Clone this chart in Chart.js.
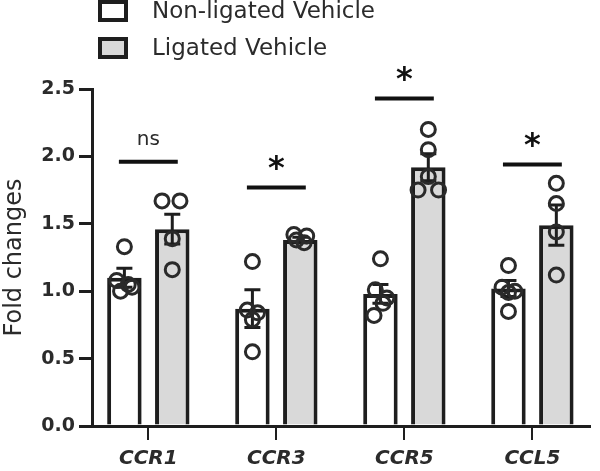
<!DOCTYPE html>
<html>
<head>
<meta charset="utf-8">
<script src="https://cdn.jsdelivr.net/npm/chart.js@4/dist/chart.umd.min.js"></script>
<style>
  html, body { margin: 0; padding: 0; background: #fff; }
  #wrap { width: 600px; height: 471px; position: relative; }
</style>
</head>
<body>
<div id="wrap"><canvas id="c" width="600" height="471"></canvas></div>
<script>
const categories = ['CCR1', 'CCR3', 'CCR5', 'CCL5'];
const seriesNames = ['Non-ligated Vehicle', 'Ligated Vehicle'];
const meanNon = [1.10, 0.87, 0.98, 1.02];
const meanLig = [1.46, 1.38, 1.92, 1.49];
const semNon = [0.07, 0.14, 0.07, 0.06];
const semLig = [0.11, 0.02, 0.10, 0.15];
const pointsNon = [
  [1.33, 1.08, 1.03, 1.00, 1.05],
  [1.22, 0.86, 0.84, 0.79, 0.55],
  [1.24, 1.01, 0.95, 0.91, 0.82],
  [1.19, 1.03, 1.00, 0.99, 0.85]
];
const pointsLig = [
  [1.67, 1.67, 1.39, 1.16],
  [1.42, 1.41, 1.38, 1.36],
  [2.20, 2.05, 1.85, 1.75, 1.75],
  [1.80, 1.65, 1.44, 1.12]
];
const jitterNon = [
  [0.00, -0.06, 0.06, -0.03, 0.03],
  [0.00, -0.04, 0.04, 0.00, 0.00],
  [0.00, -0.04, 0.05, 0.02, -0.05],
  [0.00, -0.05, 0.05, 0.00, 0.00]
];
const jitterLig = [
  [-0.08, 0.06, 0.00, 0.00],
  [-0.05, 0.05, -0.03, 0.03],
  [0.00, 0.00, 0.00, -0.08, 0.08],
  [0.00, 0.00, 0.00, 0.00]
];
const sigLabels = ['ns', '*', '*', '*'];
const sigHeights = [1.96, 1.77, 2.43, 1.94];
const yTicks = [0, 0.5, 1.0, 1.5, 2.0, 2.5];

const INK = '#1e1e1e';
const TEXT = '#2b2b2b';
const FILLS = ['#ffffff', '#d9d9d9'];
const CAT_PCT = 0.748, BAR_PCT = 0.72;
const GROUP_OFF = CAT_PCT / 4;

function scatterData(points, jitter, side) {
  const out = [];
  points.forEach((arr, i) => arr.forEach((v, j) => out.push({ x: i + side * GROUP_OFF + jitter[i][j], y: v })));
  return out;
}

const means = [meanNon, meanLig];
const sems = [semNon, semLig];

const errorBars = {
  id: 'errorBars',
  afterDatasetDraw(chart, args) {
    if (args.index > 1) return;
    const ctx = chart.ctx;
    const y = chart.scales.y;
    const meta = chart.getDatasetMeta(args.index);
    ctx.save();
    ctx.strokeStyle = INK;
    ctx.lineWidth = 3;
    meta.data.forEach((bar, i) => {
      const m = means[args.index][i], s = sems[args.index][i];
      const yt = y.getPixelForValue(m + s), yb = y.getPixelForValue(m - s);
      ctx.beginPath();
      ctx.moveTo(bar.x, yt); ctx.lineTo(bar.x, yb);
      ctx.moveTo(bar.x - 8, yt); ctx.lineTo(bar.x + 8, yt);
      ctx.moveTo(bar.x - 8, yb); ctx.lineTo(bar.x + 8, yb);
      ctx.stroke();
    });
    ctx.restore();
  }
};

const overlay = {
  id: 'overlay',
  afterDraw(chart) {
    const ctx = chart.ctx;
    const x = chart.scales.x, y = chart.scales.y;
    ctx.save();
    ctx.strokeStyle = '#111';
    ctx.lineWidth = 4;
    ctx.fillStyle = '#111';
    ctx.textAlign = 'center';
    sigLabels.forEach((lab, i) => {
      const py = y.getPixelForValue(sigHeights[i]);
      const x1 = x.getPixelForValue(i - 0.23), x2 = x.getPixelForValue(i + 0.23);
      ctx.beginPath(); ctx.moveTo(x1, py); ctx.lineTo(x2, py); ctx.stroke();
      const cx = (x1 + x2) / 2;
      ctx.textBaseline = 'middle';
      if (lab === '*') {
        ctx.font = 'bold 32px "DejaVu Sans"';
        ctx.fillStyle = '#111';
        ctx.fillText(lab, cx, py - 18);
      } else {
        ctx.font = '20px "DejaVu Sans"';
        ctx.fillStyle = TEXT;
        ctx.fillText(lab, cx, py - 22);
      }
    });
    ctx.textAlign = 'left';
    ctx.textBaseline = 'middle';
    ctx.font = '23px "DejaVu Sans"';
    const rows = [11, 48];
    seriesNames.forEach((name, k) => {
      const cy = rows[k];
      ctx.fillStyle = FILLS[k];
      ctx.fillRect(100, cy - 9, 26, 18);
      ctx.strokeStyle = INK;
      ctx.lineWidth = 4;
      ctx.strokeRect(100, cy - 9, 26, 18);
      ctx.fillStyle = TEXT;
      ctx.fillText(name, 152, cy + 1);
    });
    ctx.restore();
  }
};

const barCommon = {
  borderColor: INK,
  borderWidth: { top: 4, left: 4, right: 4, bottom: 0 },
  borderSkipped: false,
  categoryPercentage: CAT_PCT,
  barPercentage: BAR_PCT,
  order: 2
};
const pointCommon = {
  type: 'scatter',
  pointRadius: 7,
  pointBorderWidth: 3,
  borderColor: '#2a2a2a',
  backgroundColor: 'rgba(0,0,0,0)',
  order: 1
};

new Chart(document.getElementById('c'), {
  type: 'bar',
  data: {
    datasets: [
      Object.assign({ label: seriesNames[0], data: meanNon.map((v, i) => ({ x: i, y: v })), backgroundColor: FILLS[0] }, barCommon),
      Object.assign({ label: seriesNames[1], data: meanLig.map((v, i) => ({ x: i, y: v })), backgroundColor: FILLS[1] }, barCommon),
      Object.assign({ label: seriesNames[0] + ' points', data: scatterData(pointsNon, jitterNon, -1) }, pointCommon),
      Object.assign({ label: seriesNames[1] + ' points', data: scatterData(pointsLig, jitterLig, 1) }, pointCommon)
    ]
  },
  options: {
    responsive: false,
    animation: false,
    layout: { padding: { top: 89, right: 4, left: 0, bottom: 0 } },
    plugins: { legend: { display: false }, tooltip: { enabled: false } },
    scales: {
      x: {
        type: 'linear',
        min: -0.44,
        max: 3.45,
        offset: false,
        afterBuildTicks(scale) { scale.ticks = categories.map((c, i) => ({ value: i })); },
        afterFit(scale) { scale.height = 45; },
        grid: { drawOnChartArea: false, offset: false, drawTicks: true, tickLength: 14, color: INK, lineWidth: 2 },
        border: { display: true, color: INK, width: 3 },
        ticks: {
          autoSkip: false,
          maxRotation: 0,
          padding: 7,
          color: TEXT,
          font: { family: 'DejaVu Sans', size: 20, weight: 'bold', style: 'italic' },
          callback: (v) => categories[v]
        }
      },
      y: {
        min: 0,
        max: 2.5,
        afterBuildTicks(scale) { scale.ticks = yTicks.map(v => ({ value: v })); },
        afterFit(scale) { scale.width = 92; },
        grid: { drawOnChartArea: false, drawTicks: true, tickLength: 13, color: INK, lineWidth: 3 },
        border: { display: true, color: INK, width: 3 },
        title: {
          display: true,
          text: 'Fold changes',
          color: TEXT,
          font: { family: 'DejaVu Sans', size: 24 },
          padding: { top: 0, bottom: 0 }
        },
        ticks: {
          padding: 4,
          color: TEXT,
          font: { family: 'DejaVu Sans', size: 19, weight: 'bold' },
          callback: (v) => Number(v).toFixed(1)
        }
      }
    }
  },
  plugins: [errorBars, overlay]
});
</script>
</body>
</html>
